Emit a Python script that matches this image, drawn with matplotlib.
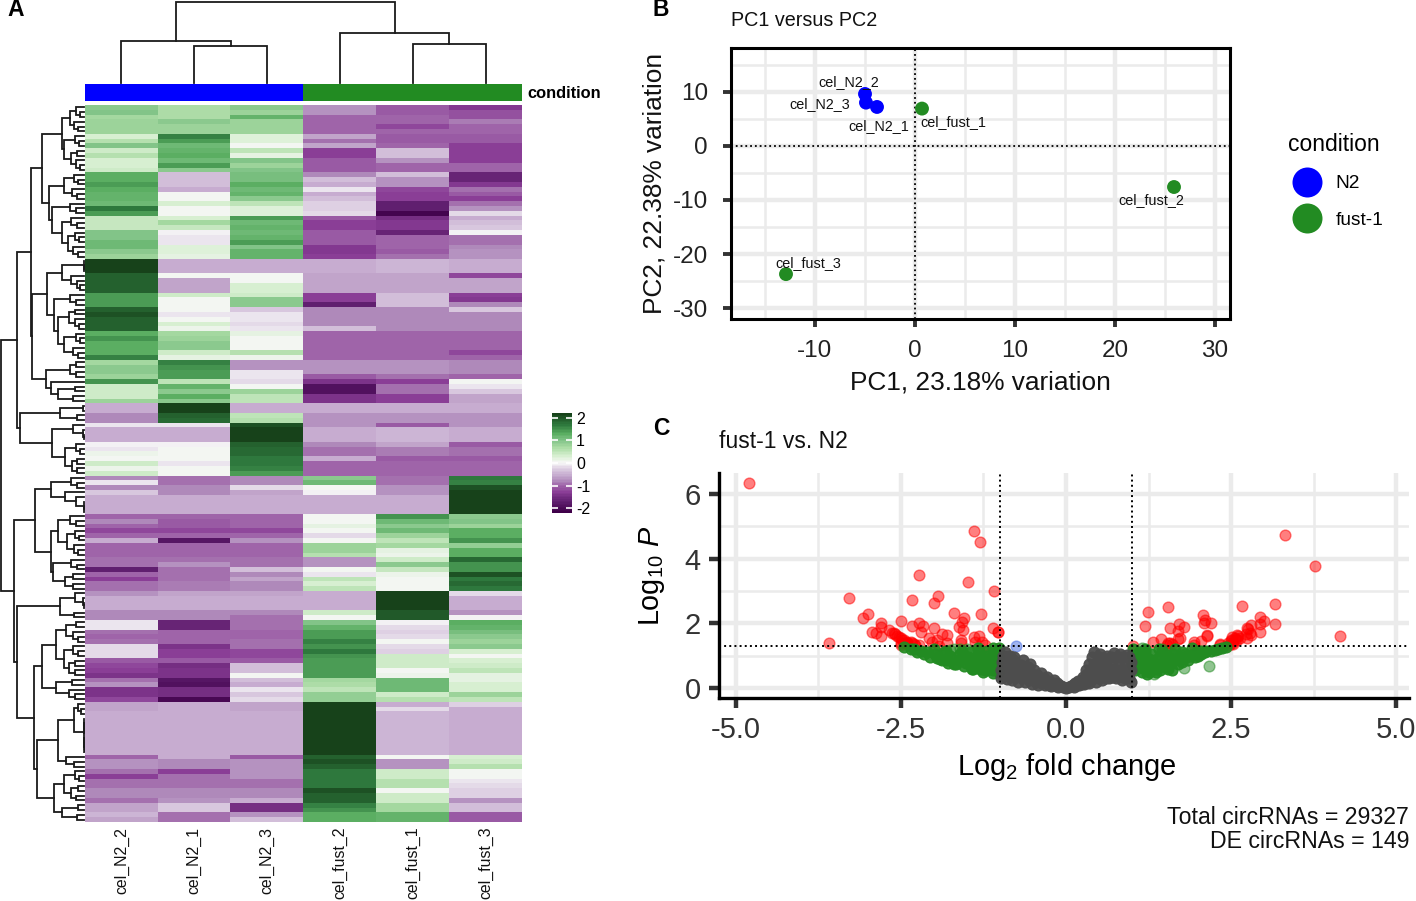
import numpy as np
import matplotlib
matplotlib.use("Agg")
import matplotlib.pyplot as plt
from matplotlib.colors import LinearSegmentedColormap
from matplotlib.lines import Line2D

plt.rcParams['font.family'] = ['Liberation Sans', 'DejaVu Sans']
plt.rcParams['mathtext.fontset'] = 'custom'
plt.rcParams['mathtext.rm'] = 'Liberation Sans'
plt.rcParams['mathtext.it'] = 'Liberation Sans:italic'
plt.rcParams['axes.unicode_minus'] = False

W, H = 1416, 901

# --- heatmap values, one list per sample, top row first
cel_N2_2 = [.9,1.0,.7,.8,.8,.8,.3,.6,1.0,.4,
    .6,.3,.3,.4,1.3,1.3,1.4,1.3,1.2,1.2,
    1.1,1.7,1.4,.45,.45,.45,1.0,1.0,1.1,1.1,
    .9,.8,2.2,2.2,2.2,1.9,1.9,1.9,1.9,1.4,
    1.4,1.4,1.9,2.0,1.9,1.9,1.9,1.3,1.5,1.3,
    1.3,1.3,1.6,.7,.9,.9,.8,1.5,.4,.4,
    .4,.8,-.5,-.5,-.8,-.8,-.1,-.5,-.5,-.5,
    -.05,-.1,.1,.05,.35,.1,.4,-.8,-.1,-.8,
    -.3,-.5,-.5,-.5,-.5,-1,-.8,-1,-1.2,-1,
    -.5,-1,-1,-1,-.9,-.9,-1.7,-1,-1.3,-.9,
    -.9,-.7,-.5,-.5,-.5,-.8,-.8,-.1,-.1,-.9,
    -1,-.9,-.2,-.2,-.2,-1.1,-1.2,-1.3,-1.4,-.9,
    -.7,-1.4,-1.4,-1.2,-.6,-.6,-.5,-.5,-.5,-.5,
    -.5,-.5,-.5,-.5,-.5,-1,-.7,-.7,-.9,-1.3,
    -.9,-.9,-.8,-.8,-.9,-.6,-.6,-.45,-.6]
cel_N2_1 = [.65,.65,.65,.9,.8,.8,1.6,1.4,1.1,1.2,
    1.3,1.1,1.4,.9,-.4,-.4,-.4,-.55,.02,.02,
    .3,.05,.05,.3,.7,.45,-.05,-.1,-.1,.25,
    .25,.2,-.5,-.5,-.5,0,-.6,-.6,-.6,.35,
    .02,.05,.05,-.1,.03,.3,.1,.7,.8,.9,
    .9,.4,.2,1.6,1.5,1.4,1.4,.5,1.2,.9,
    1.3,.9,2.2,2.2,1.9,1.8,-.1,-.5,-.5,-.5,
    -.05,0,.03,.03,-.1,.05,.05,-.9,-.9,-.8,
    -.8,-.5,-.5,-.5,-.5,-1,-1.1,-1.1,-1.2,-1,
    -1.8,-1,-1,-1,-.9,-.7,-.9,-.9,-.9,-.85,
    -.85,-.6,-.5,-.5,-.5,-.8,-.8,-1.6,-1.6,-1,
    -1,-1,-1.4,-1.25,-1.25,-1.1,-1.5,-1.4,-1.4,-1.8,
    -1.9,-1.5,-1.5,-2,-.55,-.5,-.5,-.5,-.5,-.5,
    -.5,-.5,-.5,-.5,-.5,-.5,-.8,-.8,-1.3,-.9,
    -.9,-.9,-.8,-.8,-.7,-.3,-.3,-.9,-.9]
cel_N2_3 = [.9,.8,1.2,.8,.8,.8,.25,.25,.05,.5,
    .15,1,.8,1,1.05,1.05,1.3,1.15,1.2,.9,
    .5,.25,.25,1.4,1.1,1.2,1.1,1.2,1.4,1,
    1.2,1.2,-.5,-.5,-.5,.01,.02,.3,.3,.35,
    .9,.9,-.3,-.1,-.1,-.2,-.1,.15,0,0,
    0,.55,.1,-.7,-.7,-.1,-.1,-.2,.02,.8,
    .5,.5,-.5,-.5,.5,.6,2,2.2,2.2,2.2,
    1.9,1.8,1.8,1.7,1.7,1.6,1.4,-.8,-.8,-.2,
    -.6,-.5,-.5,-.5,-.5,-1,-1,-1,-1.2,-1,
    -.7,-1,-1,-1,-.9,-.9,-.4,-.8,-.6,-.8,
    -.8,-.6,-.5,-.5,-.5,-.8,-.9,-.9,-.9,-1,
    -1,-.95,-.9,-1.2,-1.2,-1.1,-.4,-.4,0,-.4,
    -.55,-.1,-.3,-.15,-.6,-.6,-.5,-.5,-.5,-.5,
    -.5,-.5,-.5,-.5,-.5,-1.1,-.7,-.7,-.7,-.7,
    -.9,-.9,-.8,-.8,-.5,-1.5,-1.5,-.7,-.4]
cel_fust_2 = [-.7,-.7,-1,-1,-1,-1,-.6,-.9,-.6,-1.3,
    -1.3,-1.05,-1.05,-1.05,-.8,-.4,-.5,-.1,-.5,-.35,
    -.25,-.25,-.2,-1.1,-1.3,-1.3,-1.05,-1.05,-1.05,-1.35,
    -1.35,-1.3,-.5,-.5,-.5,-.6,-.6,-.6,-.6,-1.3,
    -1.3,-1.7,-.8,-.8,-.8,-.8,-.35,-1,-1,-1,
    -1,-1,-1,-.7,-.7,-.7,-1.1,-1.4,-1.9,-1.9,
    -1.4,-1.4,-.5,-.5,-.7,-.7,-.7,-.5,-.5,-.5,
    -.8,-.9,-.9,-.5,-1,-1,-1,.9,1.1,.05,
    -.05,-.5,-.5,-.5,-.5,.01,.02,.2,0,-.15,
    0,.8,.8,.6,-.7,-.7,0,-.1,.5,.3,
    .5,-.5,-.5,-.5,-.5,.4,.02,1,1.2,1.4,
    1.4,1.6,1.5,1.7,1.5,1.4,1.4,1.4,1.4,.7,
    .65,.5,.85,.85,2.2,2.2,2.2,2.2,2.2,2.2,
    2.2,2.2,2.2,2.2,2.2,1.9,2,1.9,1.7,1.7,
    1.7,1.65,2,1.9,1.9,1.6,1.5,1.3,1.3]
cel_fust_1 = [-1.1,-1.1,-1,-1,-1.2,-1,-1.1,-1.1,-1,-.4,
    -.4,-.7,-1,-1,-.35,-.7,-.7,-1.2,-1.3,-1.3,
    -1.7,-1.7,-2.1,-1.5,-1.35,-1.35,-1.6,-1,-1,-1,
    -1.1,-.9,-.45,-.45,-.45,-.6,-.6,-.6,-.6,-.4,
    -.4,-.4,-.8,-.8,-.8,-.8,-.8,-1,-1,-1,
    -1,-1,-1,-.7,-.7,-.7,-.9,-1.3,-.9,-.9,
    -1.3,-1.3,-.5,-.5,-.7,-.7,-1.1,-.45,-.45,-.45,
    -.6,-.85,-.85,-1.05,-1,-1,-1,-.9,-.9,-.75,
    -.7,-.5,-.5,-.5,-.5,1.5,1.1,.9,1.1,.8,
    .5,.7,.15,.1,.35,.9,.45,.1,.02,.02,
    .05,2.2,2.2,2.2,2.2,1.95,1.95,-.05,-.2,-.25,
    -.15,0,-.15,-.25,.35,.4,.4,.05,.1,1.1,
    1.1,1.1,.4,.6,-.5,-.2,-.45,-.45,-.45,-.45,
    -.45,-.45,-.45,-.45,-.45,0,-.7,-.7,.35,.4,
    .6,.6,.05,.35,.35,.7,.7,1.2,1.2]
cel_fust_3 = [-1.35,-1.15,-1.15,-.85,-1,-1,-1.1,-1.05,-1.3,-1.3,
    -1.3,-1.3,-1,-1,-1.6,-1.6,-1.35,-.95,-1.05,-1.3,
    -.9,-.75,-.2,-.5,-.35,-.3,-.05,-.95,-.95,-.8,
    -.7,-.7,-.5,-.5,-.5,-1.2,-.6,-.6,-.6,-1.3,
    -1.35,-.8,-.3,-.8,-.8,-.8,-.8,-1,-1,-1,
    -1,-1.2,-1,-.8,-.8,-.8,-1,0,-.1,-.3,
    -.6,-.6,-.5,-.5,-.7,-.7,-.7,-.5,-.5,-.5,
    -1.1,-.9,-.9,-1.05,-1,-1,-1,1.7,1.6,2,
    2.2,2.2,2.2,2.2,2.2,.9,1,.8,1.25,1.3,
    1.5,.85,1.3,1.3,1.8,1.5,1.5,2,1.7,1.8,
    1.7,-.15,-.5,-.5,-.5,-.7,-.05,1.3,1.2,1.05,
    .9,.8,.9,.3,.05,.3,.4,.5,.2,.2,
    .3,.3,.8,.5,-.25,-.5,-.5,-.5,-.5,-.5,
    -.5,-.5,-.5,-.5,-.5,.3,.4,.55,.01,.01,
    -.1,-.2,-.25,-.25,-.7,-.4,-.4,-1.1,-1.1]

samples = ["cel_N2_2", "cel_N2_1", "cel_N2_3", "cel_fust_2", "cel_fust_1", "cel_fust_3"]
heat = np.array([cel_N2_2, cel_N2_1, cel_N2_3, cel_fust_2, cel_fust_1, cel_fust_3]).T

# colours picked off the reference heatmap
cmap_values = [-2.2, -1.7, -1.3, -1.0, -0.8, -0.5, -0.2, 0, 0.3, 0.7, 1.0, 1.3, 1.7, 2.2]
cmap_colors = ['#3f0049', '#612070', '#8a3d96', '#a066aa', '#b08abb', '#c9b0d2', '#e2d6e6',
               '#f7f7f7', '#d9f0d3', '#a9dba3', '#84c58a', '#5aae61', '#2f7a3e', '#17421a']
heat_cmap = LinearSegmentedColormap.from_list(
    'fustPRGn', [((v + 2.2) / 4.4, c) for v, c in zip(cmap_values, cmap_colors)], N=64)

# --- row dendrogram: (height, left, right), an int is a run of leaves
t0_13 = (23, (15, (9, 1, 2), (11, 1, 2)), (21, (10, 1, 2), (14, 2, (9, 1, 2))))
t14_31 = (36, (21, (11, 1, 2), (13, 1, 2)),
          (33, (15, 1, 2), (23.5, (14, 1, 2), (17, (10, 1, 2), (12, 1, 2)))))
t32_52 = (38, (23, (1.5, 1, 2), (14, 1, (8, 1, 2))),
          (31, (15, 1, 2), (27, (16, 2, 3), (21, (9, 1, 2), (12, 1, 2)))))
t53_61 = (39, (15, (9, 1, 1), (9, 1, 1)), (34, 1, (27, (10, 1, 1), (12, 1, 1))))
t62_76 = (65, (25, (2, 1, 1), (8, 1, 1)),
          (33, (12, 1, (2, 1, 2)), (20, (9, 1, 2), (13, 2, 2))))
top_tree = (68, (54, (43, t0_13, t14_31), (53, t32_52, t53_61)), t62_76)
t77_100 = (50, (34, (14, 1, (8, 1, 1)), (20, 1, (9, 1, (1, 1, 2)))),
           (34, (27, (15, 1, 2), (18, (10, 1, 2), (11, 1, 2))),
            (32, (14, 1, 2), (20, 2, (12, 1, 1)))))
t101_106 = (25, (10, 1, (2, 1, 2)), (11, 1, 1))
t107_123 = (43, (29, (19, (9, 1, 1), (12, 1, 2)), (21, (12, 1, 2), (16, 2, 2))),
            (29, (13, 1, 1), (16, 1, 2)))
t124_148 = (48, (27, (11, (7, 1, 2), (1.5, 4, 4)), (19, 1, 2)),
            (31, (21, (10, 1, (6, 1, 1)), (14, (7, 1, 1), (9, 1, 1))),
             (23, (7, 1, 1), (8, 1, 1))))
bottom_tree = (71, t77_100, (68, t101_106, (51, t107_123, t124_148)))
row_tree = (84, top_tree, bottom_tree)
# column dendrogram, leaves are the six samples
col_tree = (81, (42, 1, (38, 1, 1)), (50, 1, (40, 1, 1)))

condition_colors = ["blue"] * 3 + ["forestgreen"] * 3

# --- PCA
pca_names = ["cel_N2_2", "cel_N2_3", "cel_N2_1", "cel_fust_1", "cel_fust_2", "cel_fust_3"]
pc1 = [-5.0, -4.9, -3.8, 0.7, 25.9, -12.9]
pc2 = [9.6, 8.0, 7.2, 6.9, -7.6, -23.7]
pca_group = ["blue", "blue", "blue", "forestgreen", "forestgreen", "forestgreen"]
pca_offsets = [(-47, 12), (-77, -1), (-29, -19), (-2, -13), (-56, -13), (-11, 11)]

# --- volcano
red_x = [-4.80,-1.39,-1.30,-2.23,-1.49,-1.09,-3.28,-2.33,-1.93,-2.00,-1.70,-1.29,-3.00,-3.07,-1.54,-1.57,
    -2.80,-2.80,-2.49,-2.33,-2.22,-2.17,-1.62,-2.00,-2.20,-1.11,-1.03,-1.56,-2.94,-2.88,-2.80,-2.68,
    -2.58,-2.07,-1.87,-1.80,-2.02,-1.95,-1.80,-1.59,-1.59,-1.39,-1.32,-1.37,-1.27,-1.23,-1.92,-3.59,
    -2.53,-2.48,-2.40,-2.33,-2.50,-2.63,-2.22,-2.55,-2.5,-2.45,-2.4,-2.35,-2.3,-2.6,-2.5,-2.42,-2.28,-1.03,
    3.32,3.77,4.14,3.17,2.66,1.55,1.24,2.07,2.11,2.93,3.00,2.93,3.17,2.80,2.09,2.19,1.19,1.58,1.71,1.79,
    1.70,2.14,1.70,1.44,1.32,1.94,2.05,1.94,1.58,1.53,1.02,2.33,2.49,2.51,2.59,2.74,2.80,2.93,2.74,2.51,
    2.64,2.72,2.59,2.46,2.5,2.55,2.6,2.45,2.75,2.78,2.52,2.57,1.55,1.6,1.72,2.14,2.33]
red_y = [6.35,4.86,4.53,3.51,3.28,3.00,2.79,2.73,2.83,2.64,2.31,2.29,2.28,2.15,2.18,2.03,
    2.00,1.90,2.07,1.93,2.00,1.92,1.90,1.87,1.74,1.84,1.74,1.78,1.74,1.69,1.62,1.78,
    1.66,1.54,1.66,1.64,1.43,1.48,1.40,1.48,1.38,1.57,1.61,1.43,1.43,1.33,1.31,1.39,
    1.59,1.49,1.43,1.38,1.33,1.69,1.33,1.62,1.55,1.47,1.4,1.42,1.36,1.7,1.4,1.38,1.33,1.74,
    4.72,3.78,1.60,2.59,2.54,2.50,2.35,2.26,2.11,2.21,2.06,1.98,1.99,1.95,2.00,2.00,1.93,1.87,1.97,1.88,
    1.75,1.63,1.52,1.52,1.42,1.43,1.44,1.33,1.38,1.32,1.31,1.35,1.49,1.59,1.65,1.87,1.65,1.74,1.54,1.39,
    1.54,1.66,1.49,1.33,1.45,1.55,1.62,1.4,1.82,1.7,1.35,1.5,1.38,1.35,1.55,1.6,1.33]
green_x = [-2.45,-2.35,-2.25,-2.15,-2.05,-1.98,-1.9,-1.85,-1.8,-1.75,-1.7,-1.62,-1.6,-1.55,-1.5,-1.45,
    -1.42,-1.4,-1.35,-1.33,-1.28,-1.25,-1.25,-1.2,-1.18,-1.15,-1.12,-1.1,-1.1,-1.06,-1.05,-1.03,-1.02,-1.01,
    -2.3,-2.2,-2.1,-2.0,-1.95,-1.88,-1.82,-1.78,-1.72,-1.66,-1.6,-1.58,-1.52,-1.48,-1.44,-1.4,-1.36,-1.32,
    -1.3,-1.26,-1.22,-1.2,-1.16,-1.14,-1.1,-1.08,-1.04,-1.02,-1.2,-1.35,
    1.0,1.0,1.02,1.05,1.06,1.1,1.12,1.15,1.17,1.2,1.23,1.25,1.28,1.35,1.38,1.4,1.42,1.48,1.5,1.55,1.6,1.6,
    1.65,1.7,1.75,1.8,1.85,1.9,1.95,2.0,2.05,2.1,2.2,2.3,2.42,
    1.03,1.08,1.1,1.14,1.18,1.2,1.22,1.26,1.3,1.32,1.36,1.4,1.44,1.46,1.5,1.52,1.58,1.62,1.66,1.72,1.76,
    1.82,1.88,1.92,1.98,2.04,2.12,2.26,2.36,1.25]
green_y = [1.27,1.2,1.1,1.05,.97,1.05,.9,1.1,.85,1.0,.75,.85,1.05,.68,.9,1.1,
    .58,.78,1.0,1.25,.7,.48,.9,1.15,.6,.8,1.0,.45,1.25,.65,.85,1.1,.5,1.25,
    1.2,1.15,1.12,1.2,.92,.88,1.15,.78,.9,.75,.85,1.15,.78,.95,.68,.6,.85,1.1,
    .6,.72,.55,1.0,.7,.9,.55,1.1,.75,.95,.85,.7,
    .7,1.0,1.22,.55,.85,1.1,.65,.5,.95,1.22,.42,.75,1.05,.6,.9,1.2,.55,.75,1.05,.6,.57,.9,
    1.2,.75,.8,1.05,.88,1.25,.95,1.0,1.15,1.1,1.13,1.22,1.28,
    .85,.7,.95,.8,.62,1.1,.55,.9,.6,.8,.5,.7,.9,1.15,.65,.9,.75,1.05,.85,.95,1.1,
    .95,1.0,1.05,1.1,1.05,1.15,1.17,1.25,.48]
pale_green_x = [2.16, 1.78, 1.33, 1.45, 1.15, -1.7, -1.5, -1.6, -1.75]
pale_green_y = [.68, .62, .42, 1.22, 1.25, 1.2, 1.22, 1.2, 1.18]
grey_x = [-.98,-.98,-.97,-.96,-.92,-.9,-.9,-.88,-.85,-.82,-.8,-.78,-.78,-.72,-.7,-.68,-.65,-.62,-.6,-.58,-.55,
    -.52,-.5,-.48,-.42,-.4,-.38,-.32,-.3,-.28,-.22,-.2,-.18,-.12,-.1,-.05,0,
    -.95,-.93,-.87,-.83,-.76,-.74,-.66,-.63,-.56,-.54,-.46,-.44,-.36,-.34,-.26,-.24,-.16,-.14,-.08,-.91,-.85,-.8,-.7,
    .05,.1,.12,.18,.2,.25,.28,.3,.35,.35,.38,.4,.42,.45,.45,.48,.52,.55,.55,.58,.62,.65,.65,.7,.72,.75,.78,.8,
    .82,.85,.88,.9,.92,.95,.98,.98,.99,
    .08,.14,.16,.22,.24,.3,.32,.32,.38,.42,.42,.48,.5,.5,.58,.6,.62,.68,.68,.72,.78,.82,.85,.9,.94,.96,.6,.7,.8,.9,.5]
grey_y = [.32,.55,.8,1.0,1.12,.28,.55,.8,1.0,.25,.5,.75,.95,.2,.45,.72,.85,.18,.4,.65,.75,
    .12,.32,.55,.1,.28,.45,.08,.22,.35,.05,.15,.25,.03,.1,.02,0,
    .4,.7,.4,.65,.35,.6,.3,.55,.25,.5,.2,.4,.15,.3,.1,.2,.08,.14,.06,.95,.9,.85,.6,
    .02,.1,.04,.22,.1,.35,.12,.55,.15,.75,.4,.95,1.1,.2,.6,.85,1.05,.25,.5,.75,1.0,.3,.55,.8,1.08,.3,.55,.8,
    1.05,.25,.5,.75,1.02,.32,.55,.8,.18,
    .06,.15,.08,.12,.25,.3,.2,.42,.25,.5,.75,.4,.3,.95,.4,.9,.65,.42,.95,.6,.95,.4,.95,.35,.6,.95,.3,.35,.4,.3,.7]
blue_x = [-.75]
blue_y = [1.31]


def add_px(l, t, r, b):
    return fig.add_axes([l / W, 1 - b / H, (r - l) / W, (b - t) / H])


def draw_tree(ax, node, parent_h, counter, horizontal):
    # returns (position, height) of the node and draws its bracket
    if isinstance(node, int):
        if node == 1:
            counter[0] += 1
            return counter[0] - 0.5, 1
        node = (parent_h * 0.6, 1, node - 1)
    h, left, right = node
    p1, h1 = draw_tree(ax, left, h, counter, horizontal)
    p2, h2 = draw_tree(ax, right, h, counter, horizontal)
    a = [h1, h, h, h2]
    b = [p1, p1, p2, p2]
    if horizontal:
        ax.plot(a, b, color='#1a1a1a', lw=1.3, solid_joinstyle='miter')
    else:
        ax.plot(b, a, color='#1a1a1a', lw=1.3, solid_joinstyle='miter')
    return (p1 + p2) / 2, h


fig = plt.figure(figsize=(W / 100, H / 100), dpi=100)

# ---- A: heatmap
ax_h = add_px(85, 105, 522, 822)
im = ax_h.imshow(heat, aspect='auto', cmap=heat_cmap, vmin=-2.2, vmax=2.2, interpolation='nearest')
ax_h.set_yticks([])
ax_h.set_xticks(range(6))
ax_h.set_xticklabels(samples, rotation=90, fontsize=11.4, color='#111111')
ax_h.tick_params(axis='x', length=0, pad=3.5)
for s in ax_h.spines.values():
    s.set_visible(False)

ax_bar = add_px(85, 84, 522, 101)
ax_bar.imshow([[matplotlib.colors.to_rgb(c) for c in condition_colors]], aspect='auto')
ax_bar.axis('off')
fig.text(527 / W, 1 - 93 / H, "condition", fontsize=11.8, fontweight='bold', va='center')

ax_rd = add_px(0, 105, 85, 822)
ax_rd.set_xlim(85, 0)
ax_rd.set_ylim(149, 0)
ax_rd.axis('off')
draw_tree(ax_rd, row_tree, 84, [0], True)

ax_cd = add_px(85, 0, 522, 84)
ax_cd.set_xlim(0, 6)
ax_cd.set_ylim(0, 83)
ax_cd.axis('off')
draw_tree(ax_cd, col_tree, 81, [0], False)

cax = add_px(552, 413, 572, 513)
cb = fig.colorbar(im, cax=cax, ticks=[-2, -1, 0, 1, 2])
cb.outline.set_visible(False)
cb.ax.tick_params(length=4, width=1.2, color='white', direction='in', labelsize=11.5,
                  left=True, right=True, pad=3)

fig.text(7 / W, 1 - 10 / H, "A", fontsize=16.5, fontweight='bold', va='center')
fig.text(653 / W, 1 - 9 / H, "B", fontsize=16.5, fontweight='bold', va='center')
fig.text(653 / W, 1 - 429 / H, "C", fontsize=16.5, fontweight='bold', va='center')

# ---- B: PCA
ax_p = add_px(731, 48, 1230, 319)
ax_p.set_xlim(-18.4, 31.5)
ax_p.set_ylim(-32, 18.1)
ax_p.set_axisbelow(True)
ax_p.set_xticks([-10, 0, 10, 20, 30])
ax_p.set_yticks([-30, -20, -10, 0, 10])
ax_p.set_xticks([-15, -5, 5, 15, 25], minor=True)
ax_p.set_yticks([-25, -15, -5, 5, 15], minor=True)
ax_p.grid(which='major', color='#ebebeb', lw=3.2)
ax_p.grid(which='minor', color='#ebebeb', lw=1.8)
ax_p.tick_params(which='minor', length=0)
ax_p.tick_params(which='major', length=5.5, width=2.8, color='#333333', labelsize=17.5,
                 labelcolor='#222222')
ax_p.tick_params(axis='x', which='major', pad=9.5)
ax_p.tick_params(axis='y', which='major', pad=11)
for s in ax_p.spines.values():
    s.set_linewidth(2.2)
ax_p.axhline(0, color='black', ls=':', lw=1.3)
ax_p.axvline(0, color='black', ls=':', lw=1.3)
ax_p.scatter(pc1, pc2, c=pca_group, s=100, linewidths=0, zorder=3)
for name, x, y, off in zip(pca_names, pc1, pc2, pca_offsets):
    ax_p.annotate(name, (x, y), xytext=off, textcoords='offset pixels', fontsize=10.4,
                  va='center', color='#111111', zorder=4)
ax_p.set_xlabel("PC1, 23.18% variation", fontsize=18.9, labelpad=6, color='#111111')
ax_p.set_ylabel("PC2, 22.38% variation", fontsize=18.9, labelpad=4.7, color='#111111')
fig.text(731 / W, 1 - 20 / H, "PC1 versus PC2", fontsize=14.2, va='center', color='#111111')

handles = [Line2D([], [], ls='', marker='o', ms=21.6, color='blue', mew=0),
           Line2D([], [], ls='', marker='o', ms=21.6, color='forestgreen', mew=0)]
fig.legend(handles, ["N2", "fust-1"], title="condition", frameon=False, loc='upper left',
           bbox_to_anchor=(1280 / W, 1 - 125 / H), fontsize=13.8, title_fontsize=16.5,
           alignment='left', labelspacing=1.0, handletextpad=0.5, borderaxespad=0)

# ---- C: volcano
ax_v = add_px(719, 473, 1409, 698)
ax_v.set_xlim(-5.25, 5.19)
ax_v.set_ylim(-0.31, 6.65)
ax_v.set_axisbelow(True)
ax_v.set_xticks([-5, -2.5, 0, 2.5, 5])
ax_v.set_xticklabels(["-5.0", "-2.5", "0.0", "2.5", "5.0"])
ax_v.set_yticks([0, 2, 4, 6])
ax_v.set_xticks([-3.75, -1.25, 1.25, 3.75], minor=True)
ax_v.set_yticks([1, 3, 5], minor=True)
ax_v.grid(which='major', color='#ebebeb', lw=3.2)
ax_v.grid(which='minor', color='#ebebeb', lw=1.8)
ax_v.tick_params(which='minor', length=0)
ax_v.tick_params(which='major', length=7, width=3.2, color='#333333', labelsize=21,
                 labelcolor='#333333', pad=6)
ax_v.spines['top'].set_visible(False)
ax_v.spines['right'].set_visible(False)
ax_v.spines['left'].set_linewidth(2.4)
ax_v.spines['bottom'].set_linewidth(2.4)
ax_v.axhline(1.3, color='black', ls=':', lw=1.4, zorder=5)
ax_v.axvline(-1, color='black', ls=':', lw=1.4, zorder=5)
ax_v.axvline(1, color='black', ls=':', lw=1.4, zorder=5)
ax_v.scatter(red_x, red_y, s=60, color='red', alpha=0.5, lw=1.0, zorder=3)
ax_v.scatter(blue_x, blue_y, s=60, color='royalblue', alpha=0.5, lw=1.0, zorder=3)
ax_v.scatter(pale_green_x, pale_green_y, s=60, color='forestgreen', alpha=0.5, lw=1.0, zorder=3)
ax_v.scatter(green_x, green_y, s=60, color='forestgreen', alpha=0.92, lw=1.0, zorder=3)
ax_v.scatter(grey_x, grey_y, s=60, color='#4d4d4d', alpha=0.95, lw=1.0, zorder=3)
ax_v.set_xlabel(r"Log$_{2}$ fold change", fontsize=20.9, va='top')
ax_v.set_ylabel(r"Log$_{10}$ $\mathit{P}$", fontsize=20.7, va='bottom')
ax_v.xaxis.set_label_coords(0.504, -0.235)
ax_v.yaxis.set_label_coords(-0.075, 0.542)
fig.text(719 / W, 1 - 441 / H, "fust-1 vs. N2", fontsize=16.5, va='center', color='#111111')
fig.text(1409 / W, 1 - 817 / H, "Total circRNAs = 29327", fontsize=16.65, ha='right', va='center', color='#111111')
fig.text(1409 / W, 1 - 841 / H, "DE circRNAs = 149", fontsize=16.65, ha='right', va='center', color='#111111')

fig.savefig("out.png", dpi=100)
